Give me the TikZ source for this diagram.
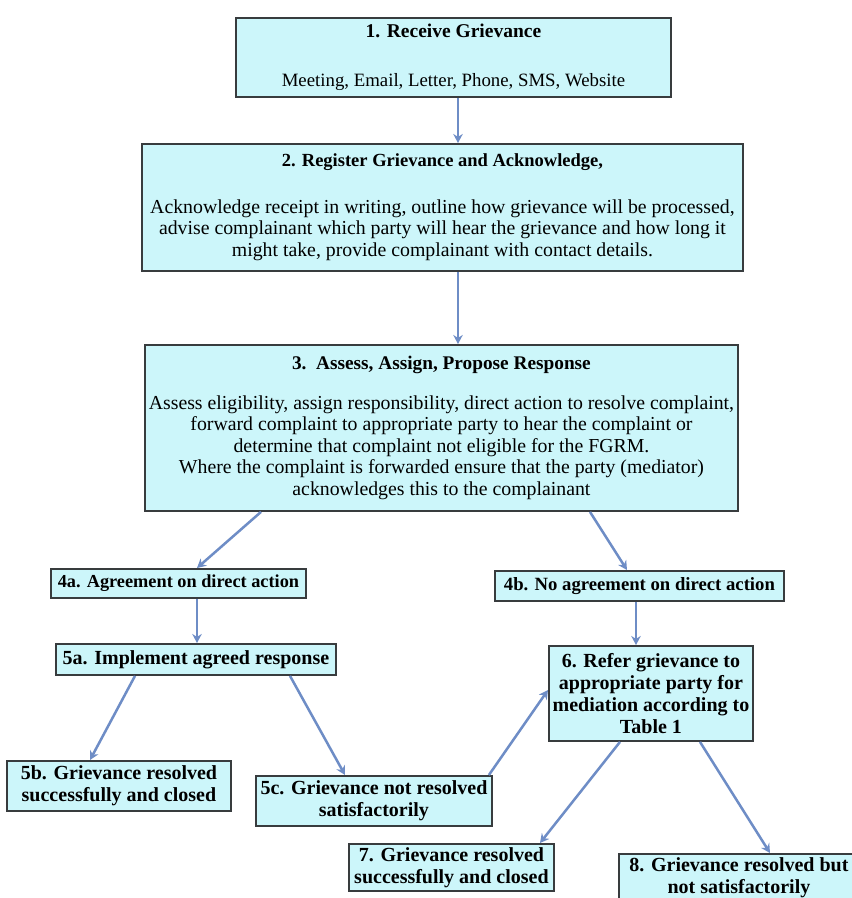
\documentclass[tikz,border=0pt]{standalone}
\usepackage{fontspec}
\setmainfont{Liberation Serif}
\usetikzlibrary{calc,arrows.meta}
\definecolor{boxfill}{RGB}{204,246,250}
\definecolor{boxline}{RGB}{56,60,62}
\definecolor{flow}{RGB}{110,141,198}
\begin{document}
\begin{tikzpicture}[x=1pt,y=-1pt,
  box/.style={draw=boxline, line width=1.9pt, fill=boxfill, anchor=north west,
    align=center, inner sep=2pt, font=\fontsize{19.8}{21.5}\selectfont},
  smallbox/.style={box, font=\bfseries\fontsize{20}{22}\selectfont},
  flowarrow/.style={draw=flow, line width=2.5pt, -{Stealth[length=9pt,width=9.5pt]}},
]
\useasboundingbox (0,0) rectangle (852,898);
\fill[white] (0,0) rectangle (852,898);

% main stages
\node[box, font=\fontsize{18.8}{21.5}\selectfont, minimum width=435, minimum height=79] (b1) at (235,17)
  {{\bfseries\fontsize{19.5}{21.5}\selectfont 1. Receive Grievance}\\[27pt]
   Meeting, Email, Letter, Phone, SMS, Website};
\node[box, minimum width=601, minimum height=127] (b2) at (141,143)
  {{\bfseries\fontsize{18.5}{21.5}\selectfont 2. Register Grievance and Acknowledge,}\\[25pt]
   Acknowledge receipt in writing, outline how grievance will be processed,\\
   advise complainant which party will hear the grievance and how long it\\
   might take, provide complainant with contact details.};
\node[box, minimum width=593, minimum height=166] (b3) at (144,344)
  {{\bfseries\fontsize{19.3}{21.5}\selectfont 3.\ \ Assess, Assign, Propose Response}\\[18pt]
   Assess eligibility, assign responsibility, direct action to resolve complaint,\\
   forward complaint to appropriate party to hear the complaint or\\
   determine that complaint not eligible for the FGRM.\\
   Where the complaint is forwarded ensure that the party (mediator)\\
   acknowledges this to the complainant};

% outcomes
\node[smallbox, font=\bfseries\fontsize{18.3}{22}\selectfont, minimum width=255, minimum height=29] (b4a) at (50,568)
  {4a. Agreement on direct action};
\node[smallbox, font=\bfseries\fontsize{18.7}{22}\selectfont, minimum width=289, minimum height=30] (b4b) at (494,570)
  {4b. No agreement on direct action};
\node[smallbox, minimum width=280, minimum height=31] (b5a) at (55,643)
  {5a. Implement agreed response};
\node[smallbox, minimum width=204, minimum height=95] (b6) at (548,645)
  {6. Refer grievance to\\appropriate party for\\mediation according to\\Table 1};
\node[smallbox, minimum width=224, minimum height=50] (b5b) at (6,760)
  {5b. Grievance resolved\\successfully and closed};
\node[smallbox, minimum width=236, minimum height=50] (b5c) at (255,775)
  {5c. Grievance not resolved\\satisfactorily};
\node[smallbox, minimum width=205, minimum height=47] (b7) at (348,843)
  {7. Grievance resolved\\successfully and closed};
\node[smallbox, minimum width=240, inner ysep=4pt, text depth=40pt] (b8) at (618,853)
  {8. Grievance resolved but\\not satisfactorily};

% connectors
\draw[flowarrow] ($(b1.south west)+(223,0)$) -- ($(b2.north west)+(317,0)$);
\draw[flowarrow] ($(b2.south west)+(317,0)$) -- ($(b3.north west)+(314,0)$);
\draw[flowarrow] ($(b3.south west)+(117,0)$) -- ($(b4a.north west)+(147,0)$);
\draw[flowarrow] ($(b3.south west)+(446,0)$) -- ($(b4b.north west)+(133,0)$);
\draw[flowarrow] ($(b4a.south west)+(147,0)$) -- ($(b5a.north west)+(142,0)$);
\draw[flowarrow] ($(b4b.south west)+(142,0)$) -- ($(b6.north west)+(88,0)$);
\draw[flowarrow] ($(b5a.south west)+(80,0)$) -- ($(b5b.north west)+(84,0)$);
\draw[flowarrow] ($(b5a.south west)+(235,0)$) -- ($(b5c.north west)+(90,0)$);
\draw[flowarrow] ($(b5c.north east)+(-4,0)$) -- ($(b6.north west)+(0,45)$);
\draw[flowarrow] ($(b6.south west)+(72,0)$) -- ($(b7.north west)+(192,0)$);
\draw[flowarrow] ($(b6.south west)+(152,0)$) -- ($(b8.north west)+(152,0)$);
\end{tikzpicture}
\end{document}
